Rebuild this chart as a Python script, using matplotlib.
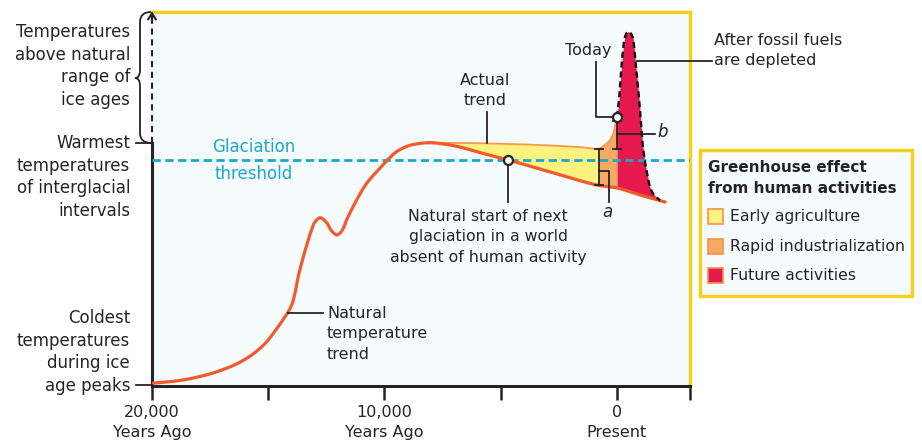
import numpy as np
import matplotlib
matplotlib.use("Agg")
import matplotlib.pyplot as plt
import matplotlib.transforms as mtrans
from matplotlib.path import Path
from matplotlib.patches import PathPatch, Rectangle

# ---------------- data (years relative to present, relative temperature) ----
natural_years = [-20000, -18650, -17200, -16050, -15200, -14640, -14420, -14160,
                 -13990, -13850, -13710, -13490, -13280, -13130, -12990, -12770,
                 -12490, -12300, -12060, -11910, -11770, -11630, -11200, -10770,
                 -10340, -9900, -9480, -8980, -8620, -8100, -7470, -6750, -5890,
                 -4690, -3010, -860, 0, 990, 2070]
natural_temp = [0.7, 2.1, 5.5, 10.3, 16.5, 23.2, 26.2, 29.9,
                33.1, 37.9, 44.8, 53.0, 59.9, 64.3, 67.4, 69.1,
                67.1, 64.0, 62.0, 62.8, 64.8, 68.2, 76.4, 83.3,
                88.1, 92.7, 96.4, 98.8, 99.6, 100.1, 99.6, 98.3, 96.0,
                93.0, 88.4, 82.6, 81.4, 78.5, 75.6]

actual_years = [-8100, -6750, -5600, -4000, -2500, -1500, -775, -520, -300, -170, -85, 0]
actual_temp = [100.1, 100.0, 99.8, 99.4, 98.8, 98.2, 97.7, 99.2, 101.2, 103.7, 107.0, 110.7]

future_years = [0, 86, 172, 258, 344, 430, 516, 600, 688, 774, 903, 989, 1118, 1290, 1505, 1850]
future_temp = [110.7, 117.8, 129.0, 138.4, 143.8, 145.6, 145.9, 145.2, 143.2, 135.5,
               123.1, 113.6, 98.3, 87.6, 79.8, 76.2]

glaciation_threshold = 93.0
warmest_interglacial = 100.0
industrial_start_year = -775
today_year = 0
today_temp = 110.7
glaciation_start = (-4690, 93.0)

tick_years = [-20000, -15000, -10000, -5000, 0, 3140]
tick_labels = ["20,000\nYears Ago", "", "10,000\nYears Ago", "", "0\nPresent", ""]

legend_title = "Greenhouse effect\nfrom human activities"
legend_labels = ["Early agriculture", "Rapid industrialization", "Future activities"]
legend_colors = ["#fff27f", "#f6aa62", "#e6194f"]

# ---------------- style ----------------
W, H = 922, 442
BG = "#f6fbfe"
YEL = "#f8d01a"
DARK = "#262324"
CURVE = "#f15a2b"
EDGE = "#f39a4c"
CYAN = "#1aa8cc"

plt.rcParams["font.family"] = ["DejaVu Sans"]

XMIN, XMAX = -20000, 3140
ymin, ymax = -0.41, 154.1
AX_W, AX_H = 690 - 152, 386 - 12
SX = AX_W / (XMAX - XMIN)
SY = AX_H / (ymax - ymin)


def smooth(xs, ys, n=12):
    """Centripetal Catmull-Rom rendering path through the given points (pixel-scaled)."""
    P = np.column_stack([np.asarray(xs, float) * SX, np.asarray(ys, float) * SY])
    P = np.vstack([2 * P[0] - P[1], P, 2 * P[-1] - P[-2]])
    out = []
    for i in range(1, len(P) - 2):
        p0, p1, p2, p3 = P[i - 1], P[i], P[i + 1], P[i + 2]
        t0 = 0.0
        t1 = t0 + np.linalg.norm(p1 - p0) ** 0.5
        t2 = t1 + np.linalg.norm(p2 - p1) ** 0.5
        t3 = t2 + np.linalg.norm(p3 - p2) ** 0.5
        t = np.linspace(t1, t2, n, endpoint=False)[:, None]
        A1 = (t1 - t) / (t1 - t0) * p0 + (t - t0) / (t1 - t0) * p1
        A2 = (t2 - t) / (t2 - t1) * p1 + (t - t1) / (t2 - t1) * p2
        A3 = (t3 - t) / (t3 - t2) * p2 + (t - t2) / (t3 - t2) * p3
        B1 = (t2 - t) / (t2 - t0) * A1 + (t - t0) / (t2 - t0) * A2
        B2 = (t3 - t) / (t3 - t1) * A2 + (t - t1) / (t3 - t1) * A3
        out.append((t2 - t) / (t2 - t1) * B1 + (t - t1) / (t2 - t1) * B2)
    out.append(P[-2][None, :])
    R = np.vstack(out)
    return R[:, 0] / SX, R[:, 1] / SY


fig = plt.figure(figsize=(W / 100, H / 100), dpi=100)
fig.patch.set_facecolor("white")
ax = fig.add_axes([152 / W, (H - 386) / H, AX_W / W, AX_H / H])
ax.set_xlim(XMIN, XMAX)
ax.set_ylim(ymin, ymax)
ax.set_facecolor(BG)

for s in ("top", "right"):
    ax.spines[s].set_color(YEL)
    ax.spines[s].set_linewidth(2.4)
ax.spines["bottom"].set_color(DARK)
ax.spines["bottom"].set_linewidth(2.2)
ax.spines["left"].set_color(DARK)
ax.spines["left"].set_linewidth(2.2)
ax.spines["left"].set_bounds(ymin, warmest_interglacial)

ax.set_yticks([])
ax.set_xticks(tick_years)
ax.set_xticklabels(tick_labels, fontsize=11.5, color=DARK, linespacing=1.35)
ax.tick_params(axis="x", direction="out", length=10, width=1.8, color=DARK, pad=4)

pix = mtrans.Affine2D().scale(1 / W, -1 / H).translate(0, 1) + fig.transFigure

# ---------------- curves (smoothed rendering) ----------------
nx, ny = smooth(natural_years, natural_temp)
ax_, ay_ = smooth(actual_years, actual_temp)
fx, fy = smooth(future_years, future_temp)

tail = nx >= actual_years[0] - 300
nxt, nyt = nx[tail], ny[tail]
order = np.argsort(nxt)
nxt, nyt = nxt[order], nyt[order]

bot = np.minimum(np.interp(ax_, nxt, nyt), ay_)
ax.fill_between(ax_, bot, ay_, where=ax_ <= industrial_start_year + 1, color=legend_colors[0],
                lw=0, zorder=2)
ax.fill_between(ax_, bot, ay_, where=ax_ >= industrial_start_year - 1, color=legend_colors[1],
                lw=0, zorder=2)
ax.fill_between(fx, np.interp(fx, nxt, nyt), fy, color=legend_colors[2], lw=0, zorder=2)

# threshold
ax.axhline(glaciation_threshold, color=CYAN, lw=2.0, ls=(0, (3, 1.6)), zorder=3)

ax.plot(ax_, ay_, color=EDGE, lw=1.3, zorder=4, solid_capstyle="round")
ax.plot(nx, ny, color=CURVE, lw=2.3, zorder=5, solid_capstyle="round",
        solid_joinstyle="round")
ax.plot(fx, fy, color="#111111", lw=1.7, ls=(0, (2.6, 1.6)), zorder=6)

# left dashed arrow above warmest interglacial
ax.plot([XMIN, XMIN], [warmest_interglacial, ymax - 1.5], color=DARK, lw=1.5,
        ls=(0, (3, 2.2)), clip_on=False, zorder=7)
ax.annotate("", xy=(XMIN, ymax + 0.3), xytext=(XMIN, ymax - 4),
            arrowprops=dict(arrowstyle="->,head_length=0.45,head_width=0.28", lw=1.5,
                            color=DARK, shrinkA=0, shrinkB=0),
            annotation_clip=False, zorder=7)

# markers
ax.plot([today_year], [today_temp], "o", ms=6.5, mfc="white", mec=DARK, mew=1.6, zorder=9)
ax.plot([glaciation_start[0]], [glaciation_start[1]], "o", ms=6.5, mfc="white",
        mec=DARK, mew=1.6, zorder=9)

# brackets a and b
lk = dict(color=DARK, lw=1.3, zorder=8, clip_on=False)
nat_at_ind = np.interp(industrial_start_year, nxt, nyt)
act_at_ind = np.interp(industrial_start_year, ax_, ay_)
cap = 170
ax.plot([industrial_start_year] * 2, [nat_at_ind, act_at_ind], **lk)
for yy in (nat_at_ind, act_at_ind):
    ax.plot([industrial_start_year - cap, industrial_start_year + cap], [yy, yy], **lk)
ax.plot([industrial_start_year, -344, -344], [88.4, 88.4, 75.6], **lk)
ax.text(-390, 71.5, "a", fontsize=12, style="italic", color=DARK, ha="center", va="center")

ax.plot([today_year] * 2, [97.5, 109.2], **lk)
for yy in (97.5, 109.2):
    ax.plot([today_year - cap, today_year + cap], [yy, yy], **lk)
ax.plot([today_year, 1634], [103.7, 103.7], **lk)
ax.text(1980, 104.5, "b", fontsize=12, style="italic", color=DARK, ha="center", va="center")

# leaders and labels
ax.plot([today_year, -903, -903], [today_temp, today_temp, 133.5], **lk)
ax.text(-1250, 138.3, "Today", fontsize=11.5, color=DARK, ha="center", va="center")

ax.plot([860, 4086], [133.9, 133.9], **lk)
ax.text(4172, 138.3, "After fossil fuels\nare depleted", fontsize=11.5, color=DARK,
        ha="left", va="center", linespacing=1.42)

ax.plot([-5591, -5591], [112.8, 100.0], **lk)
ax.text(-5677, 121.7, "Actual\ntrend", fontsize=11.5, color=DARK, ha="center",
        va="center", linespacing=1.42)

ax.plot([glaciation_start[0]] * 2, [glaciation_start[1], 75.6], **lk)
ax.text(-5548, 61.2,
        "Natural start of next\nglaciation in a world\nabsent of human activity",
        fontsize=11.3, color=DARK, ha="center", va="center", linespacing=1.45)

ax.plot([-14164, -12645], [29.9, 29.9], **lk)
ax.text(-12473, 21.1, "Natural\ntemperature\ntrend", fontsize=11.5, color=DARK,
        ha="left", va="center", linespacing=1.45)

ax.text(-15613, 98.3, "Glaciation", fontsize=12, color=CYAN, ha="center", va="center")
ax.text(-15613, 87.0, "threshold", fontsize=12, color=CYAN, ha="center", va="center")

# ---------------- left side labels (figure pixels) ----------------
lab = dict(fontsize=12, color=DARK, ha="right", va="center", linespacing=1.32, transform=pix)
fig.text(130, 66, "Temperatures\nabove natural\nrange of\nice ages", **lab)
fig.text(130, 177, "Warmest\ntemperatures\nof interglacial\nintervals", **lab)
fig.text(130, 352, "Coldest\ntemperatures\nduring ice\nage peaks", **lab)
for py in (143, 385):
    fig.add_artist(plt.Line2D([136, 152], [py, py], color=DARK, lw=1.3, transform=pix))

# brace
verts = [(151, 12), (140, 12), (140, 22), (140, 70), (140, 78), (135, 78),
         (140, 78), (140, 86), (140, 133), (140, 143), (151, 143)]
codes = [Path.MOVETO, Path.CURVE3, Path.CURVE3, Path.LINETO, Path.CURVE3, Path.CURVE3,
         Path.CURVE3, Path.CURVE3, Path.LINETO, Path.CURVE3, Path.CURVE3]
fig.add_artist(PathPatch(Path(verts, codes), fill=False, lw=1.3, ec=DARK, transform=pix))

# ---------------- legend box ----------------
fig.add_artist(Rectangle((700, 150), 212, 146, transform=pix, fc=BG, ec=YEL, lw=2.4))
fig.text(708, 178, legend_title, transform=pix, fontsize=11, fontweight="bold",
         color=DARK, ha="left", va="center", linespacing=1.45)
item_y = [217, 247, 276]
for lbl, col, py in zip(legend_labels, legend_colors, item_y):
    fig.add_artist(Rectangle((708, py - 8), 15, 15, transform=pix, fc=col,
                             ec="#f39245", lw=1.2))
    fig.text(730, py, lbl, transform=pix, fontsize=11.3, color=DARK, ha="left", va="center")

fig.savefig("out.png", dpi=100)
